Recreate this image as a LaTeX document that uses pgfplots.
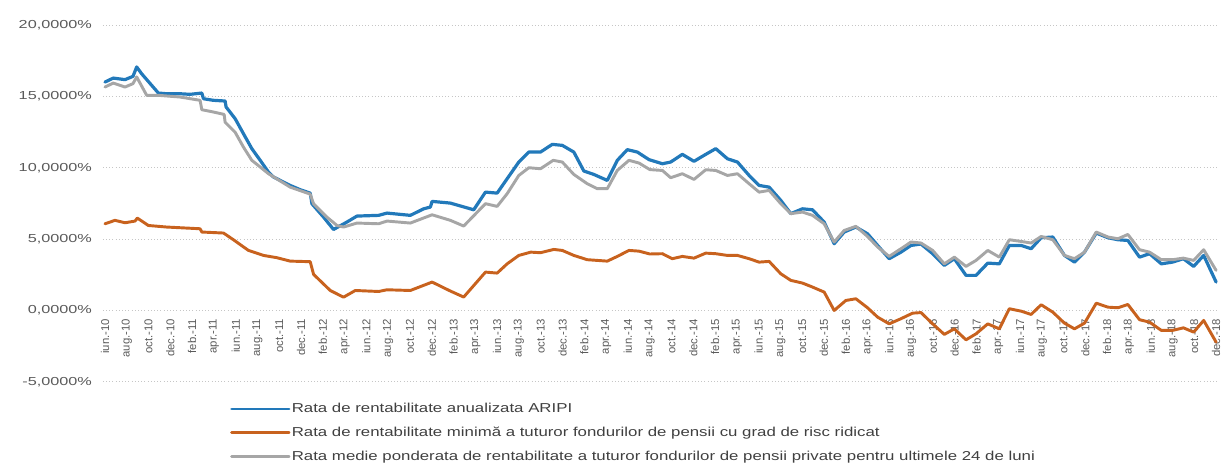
\documentclass[border=0pt]{standalone}
\usepackage{fontspec}
\setmainfont{Liberation Sans}
\newfontfamily\widefont{Liberation Sans}[FakeStretch=1.4]
\newfontfamily\legfont{Liberation Sans}[FakeStretch=1.3]
\usepackage{pgfplots}
\pgfplotsset{compat=1.18}
\definecolor{cblue}{HTML}{2279BA}
\definecolor{corange}{HTML}{C8621E}
\definecolor{cgray}{HTML}{A6A6A6}
\definecolor{ctick}{HTML}{5A5A5A}
\definecolor{cleg}{HTML}{404040}
\begin{document}
\begin{tikzpicture}
\path[use as bounding box] (0,0) rectangle (919.5pt,349.5pt);
\begin{axis}[
  at={(77.1pt,63.2pt)}, anchor=south west,
  scale only axis, width=836.6pt, height=267.3pt,
  xmin=-0.2, xmax=102.2, ymin=-5, ymax=20,
  axis line style={draw=none},
  tick style={draw=none}, major tick length=0pt,
  ytick={-5,0,5,10,15,20},
  yticklabels={{-5,0000\%},{0,0000\%},{5,0000\%},{10,0000\%},{15,0000\%},{20,0000\%}},
  yticklabel style={font=\widefont\fontsize{8.7}{10}\selectfont, text=ctick, inner sep=0pt, xshift=-8pt},
  xtick={0,2,...,102},
  xticklabels={iun.-10,aug.-10,oct.-10,dec.-10,
    feb.-11,apr.-11,iun.-11,aug.-11,oct.-11,dec.-11,
    feb.-12,apr.-12,iun.-12,aug.-12,oct.-12,dec.-12,
    feb.-13,apr.-13,iun.-13,aug.-13,oct.-13,dec.-13,
    feb.-14,apr.-14,iun.-14,aug.-14,oct.-14,dec.-14,
    feb.-15,apr.-15,iun.-15,aug.-15,oct.-15,dec.-15,
    feb.-16,apr.-16,iun.-16,aug.-16,oct.-16,dec.-16,
    feb.-17,apr.-17,iun.-17,aug.-17,oct.-17,dec.-17,
    feb.-18,apr.-18,iun.-18,aug.-18,oct.-18,dec.-18},
  xticklabel style={font=\fontsize{8.5}{10}\selectfont, text=ctick, rotate=90, anchor=east, inner sep=0pt},
  xticklabel shift=-47.25pt,
  ymajorgrids,
  grid style={dotted, line width=0.9pt, gray!45},
  legend style={at={(0.114,-0.056)}, anchor=north west, draw=none, fill=none,
    font=\legfont\fontsize{9.7}{11}\selectfont, text=cleg, row sep=7.4pt,
    inner sep=0pt, nodes={inner sep=1pt}},
  legend cell align=left,
  legend image code/.code={\draw[#1, line width=2.2pt] (0pt,0pt) -- (43pt,0pt);},
  every axis plot/.append style={line join=round, line cap=round},
]
\addplot[cblue, line width=2.4pt] coordinates {
(0,16.02)(0.76,16.3)(1.84,16.19)(2.57,16.42)(2.91,17.08)(3.37,16.6)(4.9,15.25)(5.67,15.2)(6.89,15.2)(7.81,15.16)(8.89,15.25)(9.04,14.85)(9.95,14.74)(11.03,14.69)(11.12,14.27)(11.95,13.45)(12.71,12.4)(13.48,11.35)(14.25,10.53)(15.01,9.7)(15.47,9.36)(17.0,8.77)(17.92,8.47)(18.84,8.23)(19.0,7.48)(20.06,6.55)(20.98,5.68)(22.21,6.2)(23.13,6.62)(25.12,6.67)(25.89,6.83)(28.03,6.67)(29.26,7.13)(29.87,7.25)(30.03,7.65)(31.71,7.53)(33.85,7.06)(34.93,8.3)(36.0,8.23)(36.92,9.24)(37.99,10.41)(38.91,11.11)(39.98,11.11)(41.06,11.65)(41.98,11.58)(43.04,11.11)(43.96,9.78)(44.88,9.54)(46.11,9.12)(47.03,10.53)(47.95,11.28)(48.87,11.11)(49.94,10.58)(51.17,10.29)(51.93,10.41)(53.0,10.95)(54.07,10.46)(55.15,10.95)(56.07,11.35)(57.14,10.64)(58.06,10.41)(59.13,9.47)(60.05,8.77)(60.97,8.65)(62.04,7.72)(62.96,6.79)(64.03,7.13)(64.95,7.06)(66.02,6.2)(66.94,4.68)(67.86,5.5)(68.93,5.85)(70.0,5.38)(70.93,4.56)(71.99,3.63)(73.07,4.09)(73.99,4.56)(74.91,4.66)(75.98,3.98)(77.05,3.16)(77.97,3.63)(79.04,2.46)(79.96,2.46)(81.04,3.32)(82.1,3.27)(83.02,4.56)(84.1,4.56)(85.02,4.33)(85.94,5.1)(87.01,5.15)(88.08,3.86)(89.0,3.39)(89.92,4.09)(91.0,5.43)(92.07,5.1)(92.99,4.96)(93.9,4.91)(94.97,3.74)(95.89,3.98)(96.97,3.27)(98.0,3.39)(99.0,3.63)(99.94,3.09)(100.86,3.86)(102,1.99)
};
\addlegendentry{Rata de rentabilitate anualizata ARIPI}
\addplot[corange, line width=2.2pt] coordinates {
(0,6.08)(0.92,6.32)(1.84,6.15)(2.76,6.27)(2.97,6.48)(3.98,5.96)(5.67,5.85)(8.73,5.73)(8.89,5.5)(10.88,5.43)(11.79,4.96)(13.17,4.21)(14.55,3.86)(15.78,3.7)(17.0,3.46)(18.84,3.42)(19.15,2.53)(20.68,1.4)(21.9,0.93)(22.98,1.4)(25.12,1.33)(25.89,1.45)(28.03,1.4)(30.03,1.99)(31.71,1.36)(32.93,0.94)(34.93,2.69)(36.0,2.62)(36.92,3.27)(37.99,3.86)(39.09,4.09)(39.98,4.05)(41.2,4.28)(41.98,4.21)(43.04,3.86)(44.27,3.56)(46.11,3.46)(47.03,3.79)(48.1,4.21)(49.02,4.16)(50.02,3.96)(51.17,3.98)(52.08,3.63)(53.0,3.79)(54.07,3.67)(55.15,4.02)(56.07,3.98)(57.14,3.86)(58.06,3.86)(59.13,3.63)(60.05,3.39)(60.97,3.44)(62.04,2.57)(62.96,2.11)(64.03,1.92)(64.95,1.64)(66.02,1.29)(66.94,0.0)(68.01,0.7)(68.93,0.82)(70.0,0.19)(70.93,-0.47)(71.99,-0.94)(73.07,-0.58)(74.14,-0.19)(74.91,-0.15)(75.98,-0.94)(77.05,-1.68)(77.97,-1.29)(79.04,-2.06)(79.96,-1.64)(81.04,-0.94)(82.1,-1.29)(83.02,0.12)(84.1,-0.05)(85.02,-0.28)(85.94,0.4)(87.01,-0.12)(88.08,-0.89)(89.0,-1.29)(89.92,-0.89)(91.0,0.51)(92.07,0.23)(92.99,0.19)(93.9,0.42)(94.97,-0.65)(95.89,-0.82)(96.97,-1.4)(98.0,-1.4)(99.0,-1.22)(99.94,-1.52)(100.86,-0.7)(102,-2.22)
};
\addlegendentry{Rata de rentabilitate minimă a tuturor fondurilor de pensii cu grad de risc ridicat}
\addplot[cgray, line width=2.2pt] coordinates {
(0,15.67)(0.76,15.95)(1.84,15.67)(2.57,15.91)(2.91,16.38)(3.83,15.09)(4.9,15.09)(6.89,14.97)(8.73,14.74)(8.89,14.08)(9.95,13.92)(10.94,13.75)(11.03,13.2)(11.95,12.5)(12.71,11.46)(13.48,10.53)(14.25,10.06)(15.01,9.59)(17.0,8.65)(18.84,8.16)(19.15,7.48)(20.37,6.55)(21.3,5.96)(21.9,5.85)(23.13,6.13)(25.12,6.08)(25.89,6.27)(28.03,6.13)(30.03,6.71)(31.71,6.32)(32.93,5.92)(34.93,7.49)(36.0,7.3)(36.92,8.19)(37.99,9.47)(38.91,10.01)(39.98,9.94)(41.15,10.53)(41.98,10.41)(43.04,9.54)(44.27,8.89)(45.19,8.54)(46.11,8.54)(47.03,9.82)(48.1,10.53)(49.02,10.34)(50.02,9.88)(51.17,9.82)(51.93,9.31)(53.0,9.59)(54.07,9.19)(55.15,9.87)(56.07,9.82)(57.14,9.47)(58.06,9.59)(59.13,8.89)(60.05,8.3)(60.97,8.42)(62.04,7.49)(62.96,6.79)(64.03,6.9)(64.95,6.67)(66.02,6.08)(66.94,4.8)(67.86,5.61)(68.93,5.9)(70.0,5.19)(70.93,4.45)(71.99,3.79)(73.07,4.33)(73.99,4.8)(74.91,4.73)(75.98,4.21)(77.05,3.27)(77.97,3.74)(79.04,3.09)(79.96,3.51)(81.04,4.21)(82.1,3.74)(83.02,4.96)(84.1,4.84)(85.02,4.73)(85.94,5.19)(87.01,4.96)(88.08,3.86)(89.0,3.63)(89.92,4.09)(91.0,5.5)(92.07,5.15)(92.99,5.03)(93.9,5.33)(94.97,4.26)(95.89,4.09)(96.97,3.56)(98.0,3.56)(99.0,3.67)(99.94,3.51)(100.86,4.26)(102,2.81)
};
\addlegendentry{Rata medie ponderata de rentabilitate a tuturor fondurilor de pensii private pentru ultimele 24 de luni}
\end{axis}
\end{tikzpicture}
\end{document}
